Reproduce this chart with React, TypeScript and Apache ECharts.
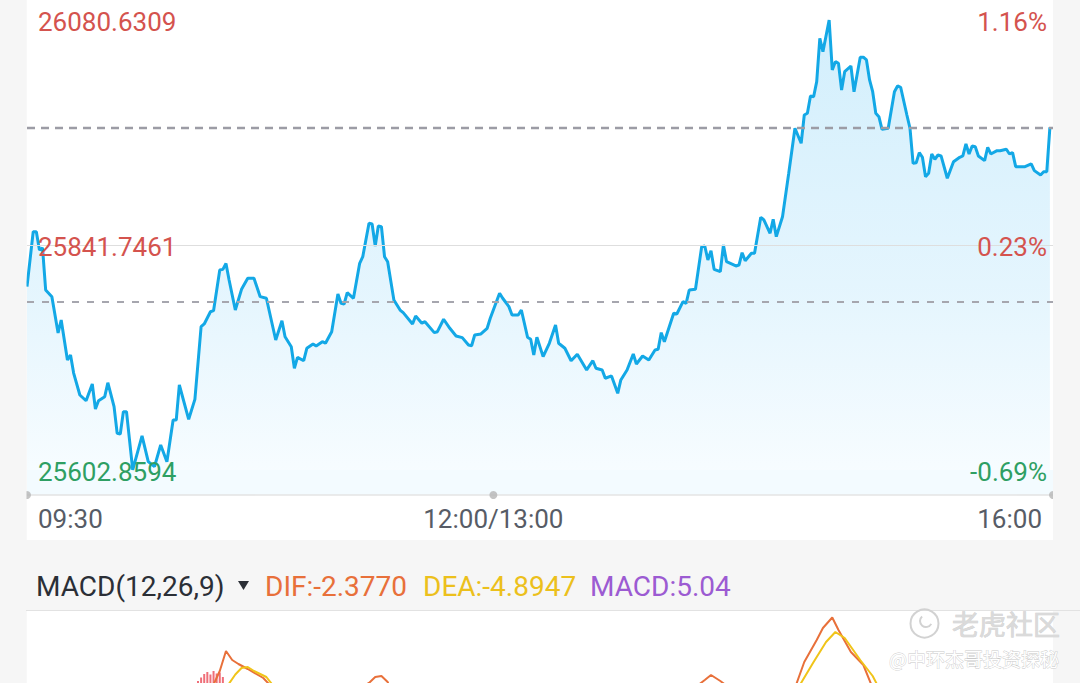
import React, { useEffect, useRef } from "react";
import * as echarts from "echarts";

// ---------- data ----------
const minutes = [
  0, 2, 3, 4, 5, 6, 8, 10, 11, 13,
  14, 15, 17, 19, 21, 22, 23, 25, 26, 28,
  29, 30, 31, 32, 34, 37, 39, 41, 43, 45,
  47, 48, 49, 52, 54, 56, 57, 59, 60, 62,
  63, 64, 65, 67, 69, 71, 73, 75, 77, 80,
  82, 83, 85, 86, 87, 89, 90, 92, 93, 95,
  96, 98, 100, 101, 102, 103, 105, 107, 108, 110,
  111, 112, 113, 114, 115, 116, 118, 120, 121, 124,
  125, 127, 128, 131, 132, 134, 136, 138, 140, 142,
  143, 144, 146, 148, 149, 152, 153, 155, 156, 158,
  159, 161, 162, 163, 164, 166, 168, 170, 171, 173,
  175, 177, 180, 182, 183, 185, 186, 188, 190, 191,
  193, 195, 196, 198, 200, 202, 203, 204, 205, 208,
  209, 211, 212, 213, 215, 217, 218, 219, 220, 221,
  223, 224, 225, 228, 229, 230, 231, 233, 234, 236,
  237, 239, 240, 241, 243, 245, 247, 249, 250, 251,
  252, 253, 254, 255, 256, 258, 259, 260, 261, 262,
  263, 265, 266, 268, 269, 270, 271, 272, 273, 274,
  275, 277, 279, 280, 281, 283, 284, 285, 286, 287,
  288, 289, 290, 291, 292, 293, 294, 296, 298, 300,
  301, 302, 303, 304, 305, 306, 308, 309, 310, 312,
  313, 315, 316, 317, 318, 319, 321, 323, 324, 326,
  327, 328, 329,
];
const prices = [
  25797.5, 25855.9, 25855.9, 25836.4, 25838.6, 25794.0, 25786.9, 25748.3, 25762.1, 25719.7,
  25725.0, 25705.8, 25682.5, 25676.4, 25694.2, 25667.6, 25676.4, 25680.7, 25695.5, 25670.1,
  25641.8, 25641.1, 25664.8, 25664.8, 25602.9, 25639.0, 25611.7, 25606.4, 25629.4, 25611.7,
  25655.9, 25655.9, 25693.1, 25656.7, 25677.9, 25755.0, 25757.9, 25770.9, 25772.0, 25815.2,
  25815.9, 25822.1, 25804.6, 25772.7, 25794.7, 25806.4, 25806.4, 25786.9, 25785.2, 25740.9,
  25761.4, 25744.4, 25733.8, 25710.9, 25722.5, 25718.9, 25732.1, 25736.7, 25734.5, 25739.1,
  25737.4, 25749.7, 25789.7, 25779.8, 25779.1, 25791.1, 25785.2, 25822.3, 25829.4, 25864.8,
  25864.0, 25840.7, 25861.9, 25861.2, 25829.3, 25824.0, 25783.4, 25772.7, 25769.9, 25757.9,
  25766.4, 25758.7, 25760.3, 25748.7, 25749.7, 25762.9, 25753.3, 25745.2, 25743.4, 25735.6,
  25734.8, 25746.2, 25747.3, 25753.3, 25763.9, 25790.5, 25785.2, 25776.3, 25767.4, 25767.4,
  25772.7, 25743.8, 25741.6, 25725.0, 25743.8, 25723.2, 25737.4, 25756.8, 25737.4, 25732.1,
  25718.9, 25725.7, 25709.1, 25718.9, 25710.9, 25709.1, 25700.3, 25702.7, 25684.3, 25698.5,
  25709.1, 25726.1, 25715.4, 25723.9, 25719.7, 25730.3, 25731.0, 25748.7, 25739.1, 25769.3,
  25768.5, 25781.6, 25779.8, 25794.0, 25794.7, 25839.9, 25840.7, 25825.8, 25835.7, 25815.9,
  25813.4, 25841.8, 25824.0, 25819.5, 25820.5, 25833.6, 25825.1, 25833.0, 25833.0, 25871.2,
  25868.3, 25854.2, 25869.1, 25850.6, 25871.8, 25917.9, 25965.7, 25949.8, 25979.8, 25981.6,
  25999.9, 25999.2, 26015.2, 26061.2, 26047.0, 26080.6, 26027.6, 26036.4, 26034.6, 26006.3,
  26025.8, 26031.8, 26004.5, 26041.1, 26041.1, 26038.2, 26017.0, 26004.5, 25981.6, 25978.0,
  25964.6, 25965.7, 26004.5, 26010.6, 26009.2, 25979.8, 25965.7, 25928.5, 25929.1, 25939.8,
  25934.9, 25914.3, 25917.9, 25938.4, 25932.8, 25937.3, 25936.3, 25912.6, 25930.2, 25934.9,
  25936.3, 25949.0, 25938.4, 25946.9, 25946.1, 25936.3, 25931.3, 25945.5, 25938.4, 25941.9,
  25941.9, 25943.4, 25938.4, 25939.8, 25924.9, 25924.9, 25924.9, 25927.8, 25920.7, 25916.1,
  25919.6, 25919.6, 25966.7,
];

const yMin = 25602.8594;
const yMax = 26080.6309;
const leftLabels = ["25602.8594", "25841.7461", "26080.6309"];
const rightLabels = ["-0.69%", "0.23%", "1.16%"];
const midValue = 25841.7461;
const prevClose = 25781.5;

const xTickMinutes = [0, 150, 330];
const xTickLabels = ["09:30", "12:00/13:00", "16:00"];

const difMinutes = [0, 55, 60, 62, 64, 66, 68, 71, 76, 79, 88, 104, 110, 112, 114, 116, 118, 152, 191, 213, 218, 220, 223, 226, 236, 247, 250, 254, 256, 259, 261, 265, 269, 272, 274, 287, 313, 329];
const difValues = [-5, 0, 1.5, 4.2, 8.2, 6.4, 5.6, 4.6, 2.8, 0.8, -2, 0, 1.8, 3.0, 3.2, 2.0, -1, -5, -6, 0, 2.4, 3.4, 2.2, 0.8, -1, 0.8, 6.0, 10.4, 12.8, 14.9, 12.4, 8.0, 5.4, 0.8, -2, -4, -3, -2.377];
const deaMinutes = [0, 60, 64, 67, 69, 71, 73, 77, 79, 83, 113, 152, 191, 223, 245, 248, 253, 257, 260, 263, 268, 272, 274, 279, 313, 329];
const deaValues = [-4, -0.5, 0.8, 3.5, 4.8, 5.0, 4.2, 3.0, 1.4, -0.5, 1.2, -3, -5, 0.5, -1, 0.8, 6, 10, 12, 10.8, 6.4, 3.2, 0.8, -2, -5, -4.8947];
const macdMinutes = [50, 55, 56, 57, 58, 59, 60, 61, 62, 63];
const macdValues = [1.6, 2.2, 2.9, 3.6, 4.0, 3.5, 4.2, 3.7, 3.9, 3.0];
// visible window of the MACD pane (the rest is below the screen edge)
const macdVisibleMin = 1.8;
const macdVisibleMax = 16;

const legendTexts = ["MACD(12,26,9)", "DIF:-2.3770", "DEA:-4.8947", "MACD:5.04"];
const watermarkTexts = ["老虎社区", "@中环杰哥投资探秘"];

// ---------- component ----------
const FONT = 'Roboto, "Noto Sans", sans-serif';
const CJK = '"Noto Sans CJK SC", sans-serif';
const BG = "#f6f6f6";
const RED = "#d4534e";
const GREEN = "#2e9f63";

function zip(xs: number[], ys: number[]) {
  const n = Math.min(xs.length, ys.length);
  const out: number[][] = [];
  for (let i = 0; i < n; i++) out.push([xs[i], ys[i]]);
  return out;
}

export default function App() {
  const ref = useRef<HTMLDivElement>(null);

  useEffect(() => {
    if (!ref.current) return;
    const chart = echarts.init(ref.current, undefined, { renderer: "svg" });
    const interval = (yMax - yMin) / 2;
    const idxOf = (v: number) => Math.round((v - yMin) / interval);
    const lineData = zip(minutes, prices);
    const last = prices[Math.min(minutes.length, prices.length) - 1];

    const yLabelRich = {
      r: { fontSize: 26, fontFamily: FONT, color: RED },
      g: { fontSize: 26, fontFamily: FONT, color: GREEN },
    };

    const option: any = {
      animation: false,
      backgroundColor: BG,
      grid: [
        { left: 27, right: 27, top: 20, height: 450 },
        { left: 27, right: 27, top: 490, height: 5 },
        { left: 27, right: 27, top: 612, bottom: 0 },
      ],
      xAxis: [
        { gridIndex: 0, type: "value", min: 0, max: 330, show: false },
        {
          gridIndex: 1,
          type: "value",
          min: 0,
          max: 330,
          interval: 30,
          axisLine: { show: true, onZero: false, lineStyle: { color: "#e4e4e4", width: 1.5 } },
          axisTick: { show: false },
          splitLine: { show: false },
          axisLabel: {
            margin: 24,
            verticalAlign: "middle",
            alignMinLabel: "left",
            alignMaxLabel: "right",
            fontSize: 26,
            fontFamily: FONT,
            color: "#575c66",
            formatter: (v: number) => {
              const i = xTickMinutes.indexOf(Math.round(v));
              if (i < 0) return "";
              const key = i === 0 ? "a" : i === xTickMinutes.length - 1 ? "b" : "c";
              return `{${key}|${xTickLabels[i]}}`;
            },
            rich: {
              a: { fontSize: 26, fontFamily: FONT, color: "#575c66", padding: [0, 0, 0, 11] },
              b: { fontSize: 26, fontFamily: FONT, color: "#575c66", padding: [0, 11, 0, 0] },
              c: { fontSize: 26, fontFamily: FONT, color: "#575c66" },
            },
          },
        },
        { gridIndex: 2, type: "value", min: 0, max: 330, show: false },
      ],
      yAxis: [
        {
          gridIndex: 0,
          type: "value",
          position: "left",
          min: yMin,
          max: yMax,
          interval,
          z: 10,
          axisLine: { show: false },
          axisTick: { show: false },
          splitLine: { show: false },
          axisLabel: {
            inside: true,
            margin: 11,
            padding: [4, 0, 0, 0],
            formatter: (v: number) => {
              const i = idxOf(v);
              return `{${i === 0 ? "g" : "r"}|${leftLabels[i] ?? ""}}`;
            },
            rich: yLabelRich,
          },
        },
        {
          gridIndex: 0,
          type: "value",
          position: "right",
          min: yMin,
          max: yMax,
          interval,
          z: 10,
          axisLine: { show: false },
          axisTick: { show: false },
          splitLine: { show: false },
          axisLabel: {
            inside: true,
            margin: 6,
            padding: [4, 0, 0, 0],
            formatter: (v: number) => {
              const i = idxOf(v);
              return `{${i === 0 ? "g" : "r"}|${rightLabels[i] ?? ""}}`;
            },
            rich: yLabelRich,
          },
        },
        { gridIndex: 1, type: "value", min: 0, max: 1, show: false },
        { gridIndex: 2, type: "value", min: macdVisibleMin, max: macdVisibleMax, show: false },
      ],
      series: [
        {
          type: "line",
          xAxisIndex: 0,
          yAxisIndex: 0,
          data: lineData,
          symbol: "none",
          lineStyle: { color: "#13a8e6", width: 3 },
          areaStyle: {
            color: new echarts.graphic.LinearGradient(0, 0, 0, 1, [
              { offset: 0, color: "#c0e8fb" },
              { offset: 0.6, color: "#d9f1fd" },
              { offset: 1, color: "#f3fbff" },
            ]),
          },
          markLine: {
            silent: true,
            symbol: ["none", "none"],
            label: { show: false },
            data: [
              { yAxis: midValue, lineStyle: { type: "solid", color: "#dedede", width: 1 } },
              { yAxis: prevClose, lineStyle: { type: [7, 8], color: "#a6a6ae", width: 1.8 } },
              { yAxis: last, lineStyle: { type: [8, 6], color: "#9c9ca5", width: 2.4 } },
            ],
          },
          z: 3,
        },
        {
          type: "scatter",
          xAxisIndex: 1,
          yAxisIndex: 2,
          data: xTickMinutes.map((m) => [m, 0]),
          symbolSize: 8,
          itemStyle: { color: "#b5b5b5" },
          clip: false,
          z: 5,
        },
        {
          type: "bar",
          xAxisIndex: 2,
          yAxisIndex: 3,
          data: zip(macdMinutes, macdValues),
          barWidth: 2,
          itemStyle: { color: "#ef6f79" },
        },
        {
          type: "line",
          xAxisIndex: 2,
          yAxisIndex: 3,
          data: zip(difMinutes, difValues),
          symbol: "none",
          lineStyle: { color: "#e8703a", width: 2 },
        },
        {
          type: "line",
          xAxisIndex: 2,
          yAxisIndex: 3,
          data: zip(deaMinutes, deaValues),
          symbol: "none",
          lineStyle: { color: "#f0c419", width: 2 },
        },
      ],
      graphic: [
        { type: "rect", z: -100, silent: true, shape: { x: 26.5, y: 0, width: 1026.5, height: 540 }, style: { fill: "#ffffff" } },
        { type: "rect", z: -100, silent: true, shape: { x: 26.5, y: 611, width: 1026.5, height: 80 }, style: { fill: "#ffffff" } },
        { type: "rect", z: -50, silent: true, shape: { x: 27, y: 470, width: 1026, height: 25 }, style: { fill: "#f3fbff" } },
        { type: "rect", z: 90, silent: true, shape: { x: 0, y: 0, width: 26.5, height: 683 }, style: { fill: BG } },
        { type: "rect", z: 90, silent: true, shape: { x: 1053, y: 0, width: 27, height: 683 }, style: { fill: BG } },
        { type: "line", z: 100, silent: true, shape: { x1: 26, y1: 610.5, x2: 1080, y2: 610.5 }, style: { stroke: "#e2e2e2", lineWidth: 1 } },
        { type: "text", z: 100, x: 36, y: 586, style: { text: legendTexts[0], font: `28px ${FONT}`, fill: "#2b2f36", verticalAlign: "middle" } },
        { type: "polygon", z: 100, shape: { points: [[238, 581], [249, 581], [243.5, 590]] }, style: { fill: "#2b2f36" } },
        { type: "text", z: 100, x: 265, y: 586, style: { text: legendTexts[1], font: `28px ${FONT}`, fill: "#e8703a", verticalAlign: "middle" } },
        { type: "text", z: 100, x: 423, y: 586, style: { text: legendTexts[2], font: `28px ${FONT}`, fill: "#ecc01c", verticalAlign: "middle" } },
        { type: "text", z: 100, x: 590, y: 586, style: { text: legendTexts[3], font: `28px ${FONT}`, fill: "#9c5bd2", verticalAlign: "middle" } },
        { type: "circle", z: 110, silent: true, shape: { cx: 924.5, cy: 623.5, r: 14 }, style: { fill: "none", stroke: "#d2d2d2", lineWidth: 2 } },
        { type: "arc", z: 110, silent: true, shape: { cx: 926, cy: 621, r: 6, startAngle: 0.5, endAngle: 4 }, style: { fill: "none", stroke: "#d2d2d2", lineWidth: 2 } },
        { type: "text", z: 110, x: 952, y: 623, style: { text: watermarkTexts[0], font: `27px ${CJK}`, fill: "#dadada", stroke: "#cacaca", lineWidth: 0.6, verticalAlign: "middle" } },
        { type: "text", z: 110, x: 889, y: 658, style: { text: watermarkTexts[1], font: `19px ${CJK}`, fill: "#ffffff", stroke: "#c9c9c9", lineWidth: 0.8, verticalAlign: "middle" } },
      ],
    };

    chart.setOption(option);
    return () => chart.dispose();
  }, []);

  return (
    <div
      ref={ref}
      style={{ position: "fixed", left: 0, top: 0, width: 1080, height: 683 }}
    />
  );
}
